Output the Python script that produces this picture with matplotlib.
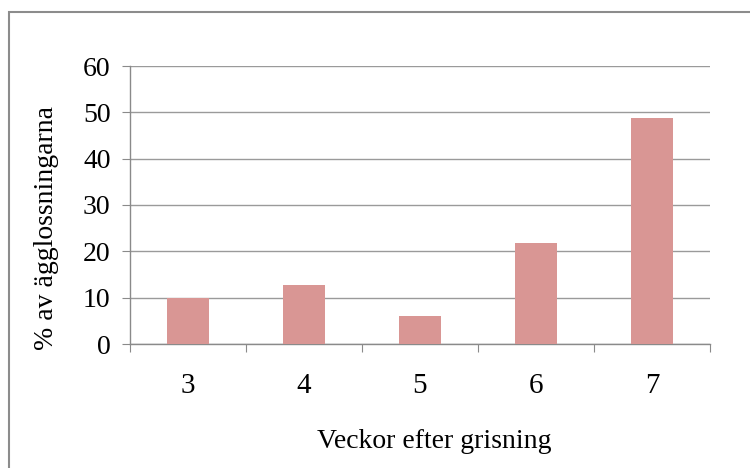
import matplotlib
matplotlib.use("Agg")
import matplotlib.pyplot as plt
from matplotlib.patches import Rectangle
import numpy as np

categories = ["3", "4", "5", "6", "7"]
values = [10.0, 12.8, 6.1, 21.8, 48.8]
yticks = [0, 10, 20, 30, 40, 50, 60]
xlabel = "Veckor efter grisning"
ylabel = "% av ägglossningarna"

plt.rcParams['font.family'] = ['Liberation Serif', 'DejaVu Serif']

fig = plt.figure(figsize=(7.5, 4.68), dpi=100)
W, H = 750, 468
# figure border (right and bottom edges fall outside the image)
fig.patches.append(Rectangle((8.5 / W, -0.05), 1.1, 1.05 - 12 / H, transform=fig.transFigure,
                             fill=False, edgecolor="#8c8c8c", linewidth=1.5))

ax = fig.add_axes([130 / W, 1 - 344 / H, 580 / W, 278 / H])
x = np.arange(len(categories))
ax.bar(x, values, width=0.36, color="#D99694", zorder=3)

ax.set_xlim(-0.5, len(categories) - 0.5)
ax.set_ylim(0, 60)
ax.set_yticks(yticks)
ax.set_yticklabels([str(t) for t in yticks], fontsize=20)
ax.yaxis.grid(True, color="#9a9a9a", linewidth=1.0, zorder=0)

ax.set_xticks(np.arange(len(categories) + 1) - 0.5)
ax.set_xticklabels([])
ax.set_xticks(x, minor=True)
ax.set_xticklabels(categories, minor=True, fontsize=21)
ax.tick_params(axis='x', which='minor', length=0, pad=21)
ax.tick_params(axis='x', which='major', length=6, color="#8a8a8a")
ax.tick_params(axis='y', length=6, color="#8a8a8a", pad=8)

for s in ["top", "right"]:
    ax.spines[s].set_visible(False)
for s in ["left", "bottom"]:
    ax.spines[s].set_color("#8a8a8a")
    ax.spines[s].set_linewidth(1.0)

fig.text(47 / W, 1 - 228 / H, ylabel, rotation=90, ha="center", va="center", fontsize=20)
fig.text(434 / W, 1 - 442 / H, xlabel, ha="center", va="center", fontsize=20)

fig.savefig("out.png", dpi=100)
